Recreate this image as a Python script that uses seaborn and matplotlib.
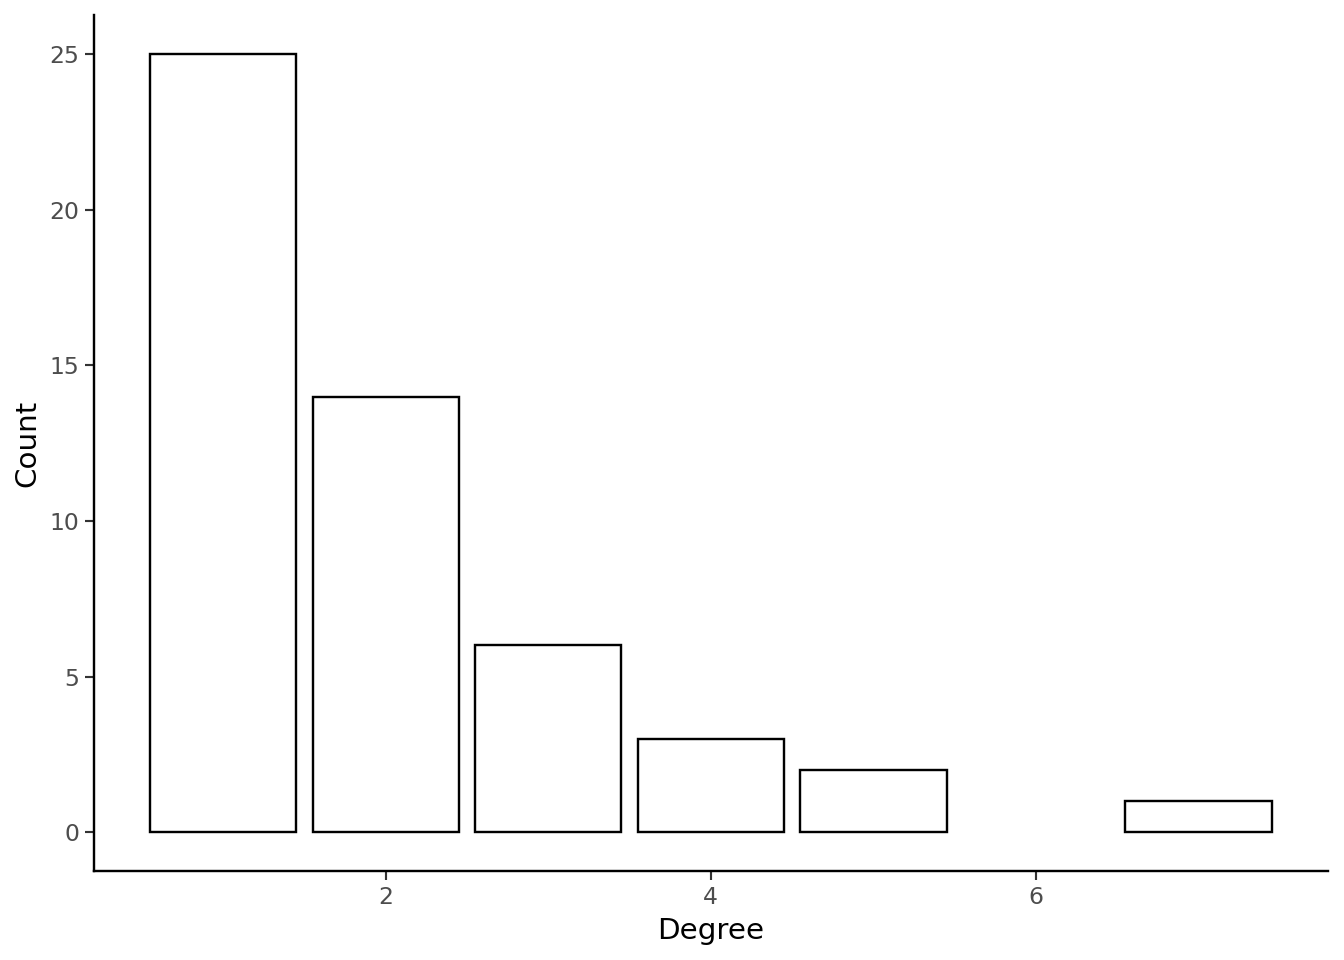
import matplotlib
matplotlib.use("Agg")
import matplotlib.pyplot as plt
import seaborn as sns

# degree distribution (degree 6 has no nodes, so it is left out)
degrees = [1, 2, 3, 4, 5, 7]
counts = [25, 14, 6, 3, 2, 1]
x_ticks = [2, 4, 6]
y_ticks = [0, 5, 10, 15, 20, 25]

sns.set_theme(style="ticks")
plt.rcParams["font.family"] = ["DejaVu Sans"]

fig = plt.figure(figsize=(7, 5), dpi=192)
ax = fig.add_axes([0.0699, 0.0927, 0.918, 0.8913])

sns.barplot(x=degrees, y=counts, native_scale=True, width=0.9,
            color="white", edgecolor="black", linewidth=0.9,
            saturation=1, ax=ax)

ax.set_xlim(0.205, 7.795)
ax.set_ylim(-1.25, 26.25)
ax.set_xticks(x_ticks)
ax.set_yticks(y_ticks)
ax.tick_params(axis="both", length=3.5, width=0.8, color="#333333",
               labelsize=8.8, labelcolor="#4D4D4D", pad=2)
for side in ["top", "right"]:
    ax.spines[side].set_visible(False)
for side in ["left", "bottom"]:
    ax.spines[side].set_linewidth(0.9)
    ax.spines[side].set_color("black")

ax.set_xlabel("Degree", fontsize=11, color="black", labelpad=3)
ax.set_ylabel("Count", fontsize=11, color="black", labelpad=3)

fig.savefig("out.png", dpi=192)
